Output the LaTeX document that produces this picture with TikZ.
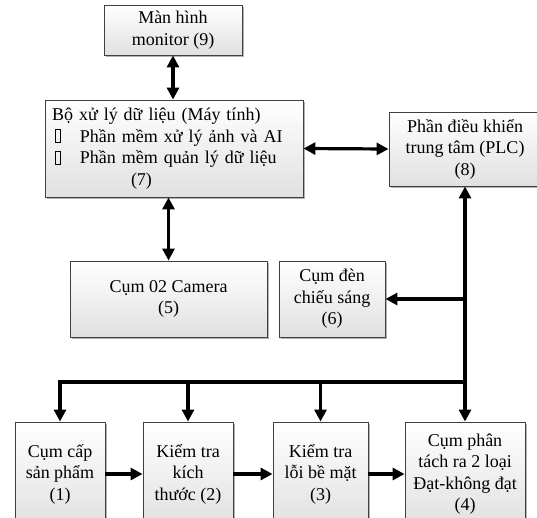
\documentclass[tikz,border=0pt]{standalone}
\usepackage{fontspec}
\setmainfont{Liberation Serif}
\usetikzlibrary{arrows.meta,shadows}
\newcommand\tofubox{{\fboxsep=0pt\fboxrule=0.7pt\fbox{\rule{0pt}{12pt}\hspace{4.5pt}}}}
\begin{document}
\begin{tikzpicture}[x=1pt,y=-1pt,
  box/.style={rectangle, draw=black!75, line width=0.9pt, top color=white, bottom color=black!12,
    drop shadow={shadow xshift=2pt, shadow yshift=-2pt, fill=black!50, opacity=0.6},
    align=center, inner sep=2pt, font=\fontsize{18}{21.5}\selectfont},
  arr/.style={line width=3.2pt, -{Triangle[length=12pt,width=12pt]}},
  darr/.style={line width=3.2pt, {Triangle[length=12pt,width=12pt]}-{Triangle[length=12pt,width=12pt]}}]
\useasboundingbox (0,0) rectangle (537,517);
\node[box, minimum width=138pt, minimum height=50pt] (mon) at (173,30) {Màn hình\\monitor (9)};
\node[box, minimum width=258pt, minimum height=97pt, text width=244pt, align=left, inner xsep=7pt] (pc) at (174,148.5)
  {Bộ xử lý dữ liệu (Máy tính)\\
   \hspace{3pt}\tofubox\hspace{19pt}Phần mềm xử lý ảnh và AI\\
   \hspace{3pt}\tofubox\hspace{19pt}Phần mềm quản lý dữ liệu\\
   \hspace{79pt}(7)};
\node[box, minimum width=152pt, minimum height=74pt] (plc) at (465,149) {Phần điều khiển\\trung tâm (PLC)\\(8)};
\node[box, minimum width=197pt, minimum height=76pt] (cam) at (168.5,299) {Cụm 02 Camera\\(5)};
\node[box, minimum width=106pt, minimum height=76pt] (den) at (332,299) {Cụm đèn\\chiếu sáng\\(6)};
\node[box, minimum width=90pt, minimum height=104pt] (s1) at (60,474) {Cụm cấp\\sản phẩm\\(1)};
\node[box, minimum width=90pt, minimum height=104pt] (s2) at (188,474) {Kiểm tra\\kích\\thước (2)};
\node[box, minimum width=95pt, minimum height=104pt] (s3) at (320.5,474) {Kiểm tra\\lỗi bề mặt\\(3)};
\node[box, minimum width=120pt, minimum height=104pt] (s4) at (465,474) {Cụm phân\\tách ra 2 loại\\Đạt-không đạt\\(4)};
\coordinate (bus) at (465,382);
\draw[darr] (mon.south) -- (mon.south |- pc.north);
\draw[darr] (cam.north |- pc.south) -- (cam.north);
\draw[darr] (pc.east) -- (plc.west);
\draw[darr] (plc.south) -- (s4.north);
\draw[arr] (plc.south |- den.east) -- (den.east);
\draw[arr] (bus) -| (s1.north);
\draw[arr] (s2.north |- bus) -- (s2.north);
\draw[arr] (s3.north |- bus) -- (s3.north);
\draw[arr] (s1.east) -- (s2.west);
\draw[arr] (s2.east) -- (s3.west);
\draw[arr] (s3.east) -- (s4.west);
\end{tikzpicture}
\end{document}
